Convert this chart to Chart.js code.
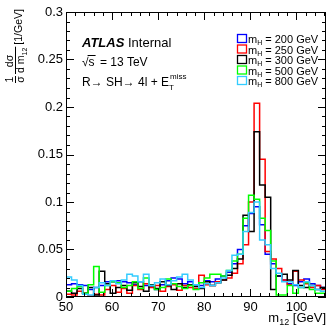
<!DOCTYPE html>
<html>
<head>
<meta charset="utf-8">
<script src="https://cdn.jsdelivr.net/npm/chart.js@4.4.0/dist/chart.umd.min.js"></script>
<style>
  html, body { margin: 0; padding: 0; background: #fff; }
  #wrap { width: 329px; height: 328px; }
</style>
</head>
<body>
<div id="wrap"><canvas id="chart" width="329" height="328"></canvas></div>
<script>
// --- data ---
const binStart = 50;
const binWidth = 1.2;
const xTickValues = [50, 60, 70, 80, 90, 100];
const xTickLabels = ['50', '60', '70', '80', '90', '100'];
const yTickValues = [0, 0.05, 0.1, 0.15, 0.2, 0.25, 0.3];
const yTickLabels = ['0', '0.05', '0.1', '0.15', '0.2', '0.25', '0.3'];

const massPoints = ['200', '250', '300', '500', '800'];
const lineColors = ['#0000ff', '#ff0000', '#000000', '#00ff00', '#33ccff'];

const h200 = [0.013, 0.014, 0.013, 0.012, 0.008, 0.010, 0.012, 0.016, 0.016, 0.017,
              0.016, 0.015, 0.013, 0.016, 0.012, 0.011, 0.008, 0.013, 0.017, 0.020,
              0.019, 0.014, 0.016, 0.013, 0.012, 0.017, 0.016, 0.019, 0.022, 0.026,
              0.035, 0.050, 0.075, 0.088, 0.095, 0.076, 0.045, 0.035, 0.022, 0.018,
              0.014, 0.012, 0.016, 0.019, 0.014, 0.012, 0.010];
const h250 = [0.003, 0.002, 0.006, 0.004, 0.001, 0.003, 0.002, 0.008, 0.012, 0.005,
              0.009, 0.004, 0.012, 0.008, 0.014, 0.010, 0.012, 0.006, 0.011, 0.013,
              0.007, 0.012, 0.010, 0.009, 0.023, 0.013, 0.012, 0.016, 0.018, 0.020,
              0.025, 0.035, 0.055, 0.100, 0.204, 0.145, 0.048, 0.040, 0.030, 0.018,
              0.013, 0.027, 0.018, 0.014, 0.010, 0.012, 0.008];
const h300 = [0.006, 0.004, 0.009, 0.004, 0.010, 0.002, 0.027, 0.014, 0.004, 0.010,
              0.012, 0.007, 0.015, 0.011, 0.006, 0.013, 0.009, 0.016, 0.012, 0.008,
              0.014, 0.010, 0.013, 0.011, 0.009, 0.016, 0.012, 0.015, 0.018, 0.023,
              0.030, 0.040, 0.086, 0.069, 0.174, 0.118, 0.105, 0.008, 0.022, 0.024,
              0.018, 0.028, 0.012, 0.010, 0.012, 0.008, 0.010];
const h500 = [0.006, 0.009, 0.011, 0.004, 0.013, 0.032, 0.005, 0.012, 0.016, 0.015,
              0.010, 0.012, 0.016, 0.009, 0.020, 0.012, 0.008, 0.010, 0.019, 0.014,
              0.011, 0.009, 0.012, 0.008, 0.015, 0.020, 0.024, 0.024, 0.022, 0.028,
              0.038, 0.045, 0.083, 0.107, 0.103, 0.083, 0.070, 0.038, 0.002, 0.002,
              0.012, 0.004, 0.010, 0.015, 0.008, 0.004, 0.004];
const h800 = [0.021, 0.018, 0.012, 0.003, 0.002, 0.010, 0.015, 0.012, 0.017, 0.014,
              0.018, 0.024, 0.022, 0.016, 0.024, 0.012, 0.015, 0.019, 0.013, 0.017,
              0.021, 0.024, 0.018, 0.013, 0.010, 0.014, 0.012, 0.015, 0.020, 0.028,
              0.044, 0.045, 0.069, 0.089, 0.100, 0.060, 0.055, 0.030, 0.025, 0.016,
              0.016, 0.013, 0.010, 0.016, 0.012, 0.008, 0.006];

const allHists = [h200, h250, h300, h500, h800];
const FONT = '"Liberation Sans", Arial, Helvetica, sans-serif';

// histogram outline: point at each bin low edge, plus the closing edge
// (drawn with stepped:'before' so each value spans its own bin)
function toSteps(vals) {
    const pts = vals.map((v, i) => ({ x: binStart + i * binWidth, y: v }));
    pts.push({ x: binStart + vals.length * binWidth, y: vals[vals.length - 1] });
    return pts;
}
const xMax = binStart + h200.length * binWidth;

// --- frame + inward ticks on all four sides ---
const framePlugin = {
    id: 'frame',
    afterDatasetsDraw(chart) {
        const { ctx, chartArea: a, scales: { x, y } } = chart;
        ctx.save();
        ctx.strokeStyle = '#000';
        ctx.lineWidth = 1;
        ctx.strokeRect(a.left + 0.5, a.top + 0.5, a.right - a.left - 1, a.bottom - a.top - 1);
        ctx.beginPath();
        for (let k = 0; k <= 30; k++) {
            const py = Math.round(y.getPixelForValue(k * 0.01)) + 0.5;
            const len = k % 5 === 0 ? 8 : 4;
            ctx.moveTo(a.left, py); ctx.lineTo(a.left + len, py);
            ctx.moveTo(a.right, py); ctx.lineTo(a.right - len, py);
        }
        for (let v = 50; v <= xMax; v += 2) {
            const px = Math.round(x.getPixelForValue(v)) + 0.5;
            const len = (v % 10 === 0) ? 8 : 4;
            ctx.moveTo(px, a.bottom); ctx.lineTo(px, a.bottom - len);
            ctx.moveTo(px, a.top); ctx.lineTo(px, a.top + len);
        }
        ctx.stroke();
        ctx.restore();
    }
};

// --- texts: titles, ATLAS label, legend ---
const textPlugin = {
    id: 'texts',
    afterDraw(chart) {
        const { ctx, chartArea: a } = chart;
        ctx.save();
        ctx.fillStyle = '#000';
        ctx.textBaseline = 'alphabetic';

        // x title
        const t1 = 'm', t3 = ' [GeV]';
        ctx.font = '9px ' + FONT;
        const w2 = ctx.measureText('12').width;
        ctx.font = '13px ' + FONT;
        const w1 = ctx.measureText(t1).width, w3 = ctx.measureText(t3).width;
        let xs = a.right - (w1 + w2 + w3);
        ctx.fillText(t1, xs, 322);
        ctx.font = '9px ' + FONT;
        ctx.fillText('12', xs + w1, 325);
        ctx.font = '13px ' + FONT;
        ctx.fillText(t3, xs + w1 + w2, 322);

        // y title (rotated, reads bottom to top)
        ctx.save();
        ctx.translate(0, 83);
        ctx.rotate(-Math.PI / 2);
        ctx.lineWidth = 1;
        ctx.font = '10.5px ' + FONT;
        ctx.textAlign = 'center';
        ctx.fillText('1', 3.5, 13);
        ctx.fillText('σ', 3.5, 24);
        ctx.beginPath(); ctx.moveTo(0, 15.5); ctx.lineTo(7, 15.5); ctx.stroke();
        ctx.fillText('dσ', 22, 13);
        ctx.textAlign = 'left';
        ctx.fillText('d m', 10, 24);
        const wdm = ctx.measureText('d m').width;
        ctx.font = '7px ' + FONT;
        ctx.fillText('12', 10 + wdm, 27);
        const w12 = ctx.measureText('12').width;
        ctx.beginPath(); ctx.moveTo(9, 15.5); ctx.lineTo(11 + wdm + w12, 15.5); ctx.stroke();
        ctx.font = '10.5px ' + FONT;
        ctx.fillText('[1/GeV]', 13 + wdm + w12, 22);
        ctx.restore();

        // ATLAS Internal
        ctx.textAlign = 'left';
        ctx.font = 'italic bold 13px ' + FONT;
        ctx.fillText('ATLAS', 82, 47);
        const wa = ctx.measureText('ATLAS ').width;
        ctx.font = '13px ' + FONT;
        ctx.fillText('Internal', 82 + wa, 47);

        // sqrt(s) = 13 TeV
        ctx.font = '12px ' + FONT;
        ctx.fillText('√', 82, 66);
        const wr = ctx.measureText('√').width;
        ctx.fillText('s', 82 + wr, 66);
        const wsv = ctx.measureText('s').width;
        ctx.beginPath(); ctx.moveTo(82 + wr - 1, 55.5); ctx.lineTo(82 + wr + wsv + 1, 55.5); ctx.stroke();
        ctx.fillText(' = 13 TeV', 82 + wr + wsv + 2, 66);

        // R -> SH -> 4l + E_T^miss
        const proc = 'R→ SH→ 4l + E';
        ctx.fillText(proc, 82, 86);
        const wp = ctx.measureText(proc).width;
        ctx.font = '8px ' + FONT;
        ctx.fillText('miss', 82 + wp + 1, 79);
        ctx.fillText('T', 82 + wp, 90);

        // legend
        const rowsY = [39, 49.5, 60, 70.5, 81];
        massPoints.forEach((m, i) => {
            const cy = rowsY[i];
            ctx.strokeStyle = lineColors[i];
            ctx.lineWidth = 1.3;
            ctx.strokeRect(237.5, cy - 4.5, 9, 8);
            ctx.fillStyle = '#000';
            ctx.font = '11px ' + FONT;
            ctx.fillText('m', 248, cy + 4);
            const wm = ctx.measureText('m').width;
            ctx.font = '7px ' + FONT;
            ctx.fillText('H', 248 + wm, cy + 6);
            const wh = ctx.measureText('H').width;
            ctx.font = '11px ' + FONT;
            ctx.fillText(' = ' + m + ' GeV', 248 + wm + wh, cy + 4);
        });
        ctx.restore();
    }
};

const datasets = allHists.map((vals, i) => ({
    label: 'm_H = ' + massPoints[i] + ' GeV',
    data: toSteps(vals),
    borderColor: lineColors[i],
    borderWidth: 1.5,
    stepped: 'before',
    pointRadius: 0,
    fill: false,
    order: 5 - i
}));

new Chart(document.getElementById('chart'), {
    type: 'line',
    data: { datasets },
    options: {
        responsive: false,
        animation: false,
        layout: { padding: { top: 12, right: 3, left: 0, bottom: 0 } },
        plugins: { legend: { display: false }, tooltip: { enabled: false } },
        scales: {
            x: {
                type: 'linear',
                min: binStart,
                max: xMax,
                afterBuildTicks: s => { s.ticks = xTickValues.map(v => ({ value: v })); },
                afterFit: s => { s.height = 31; },
                grid: { display: false, drawTicks: false },
                border: { display: false },
                ticks: {
                    padding: 3,
                    maxRotation: 0,
                    autoSkip: false,
                    color: '#000',
                    font: { family: FONT, size: 13 },
                    callback: (v, i) => xTickLabels[i]
                }
            },
            y: {
                type: 'linear',
                min: 0,
                max: 0.3,
                afterBuildTicks: s => { s.ticks = yTickValues.map(v => ({ value: v })); },
                afterFit: s => { s.width = 66; },
                grid: { display: false, drawTicks: false },
                border: { display: false },
                ticks: {
                    padding: 3,
                    autoSkip: false,
                    color: '#000',
                    font: { family: FONT, size: 13 },
                    callback: (v, i) => yTickLabels[i]
                }
            }
        }
    },
    plugins: [framePlugin, textPlugin]
});
</script>
</body>
</html>
